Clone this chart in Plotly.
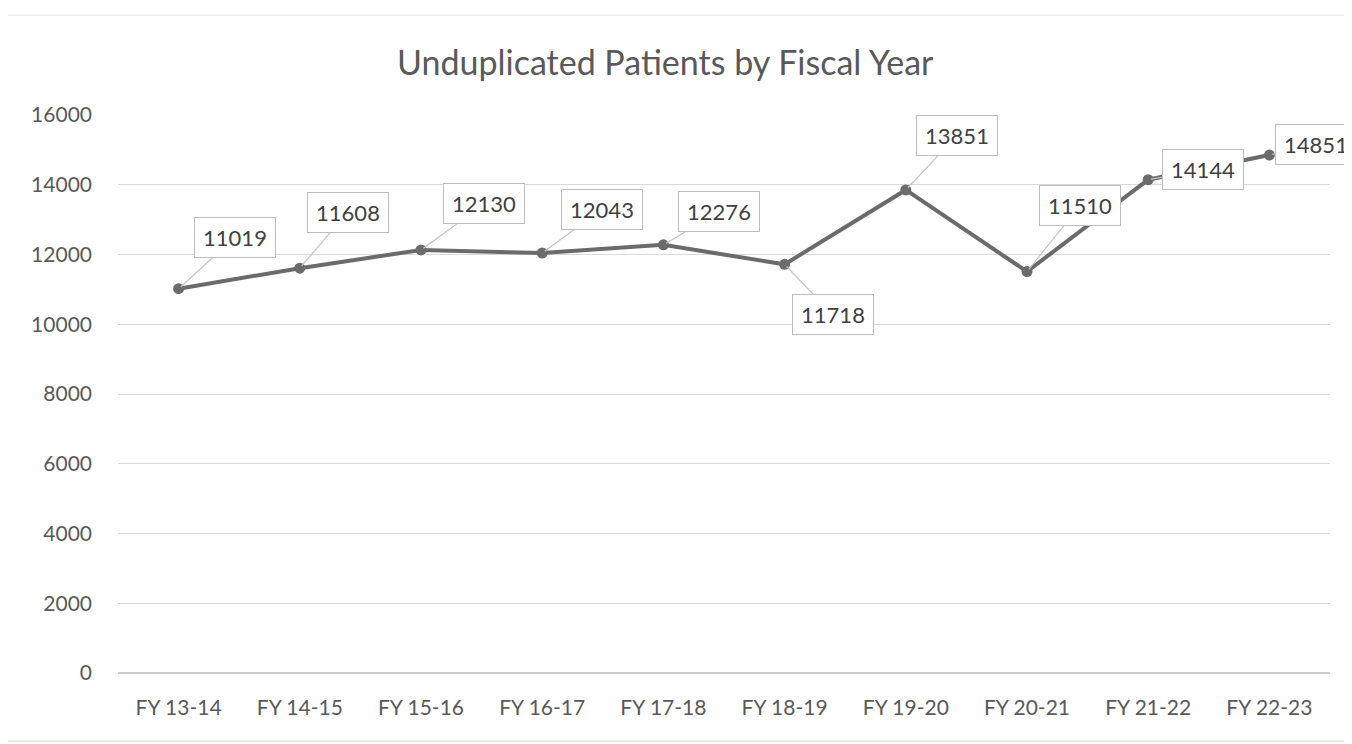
import plotly.graph_objects as go

categories = ["FY 13-14", "FY 14-15", "FY 15-16", "FY 16-17", "FY 17-18",
              "FY 18-19", "FY 19-20", "FY 20-21", "FY 21-22", "FY 22-23"]
patients = [11019, 11608, 12130, 12043, 12276, 11718, 13851, 11510, 14144, 14851]
y_ticks = [0, 2000, 4000, 6000, 8000, 10000, 12000, 14000, 16000]

# label box offsets in pixels (dx, dy) relative to each point
label_dx = [56, 48, 63, 60, 56, 48, 51, 53, 55, 47]
label_dy = [-51, -56, -46, -44, -33, 50, -54, -66, -10, -11]

FONT = "Lato, Open Sans, sans-serif"
GRAY = "#595959"

fig = go.Figure()
fig.add_trace(go.Scatter(
    x=categories, y=patients, mode="lines+markers",
    line=dict(color="#6b6b6b", width=4),
    marker=dict(color="#6b6b6b", size=11),
    hoverinfo="x+y", showlegend=False,
))

for c, v, dx, dy in zip(categories, patients, label_dx, label_dy):
    fig.add_annotation(
        x=c, y=v, text=str(v), ax=dx, ay=dy, axref="pixel", ayref="pixel",
        showarrow=True, arrowhead=0, arrowwidth=1.2, arrowcolor="#c4c4c4",
        standoff=3, bgcolor="white", bordercolor="#bdbdbd", borderwidth=1,
        width=68, height=27, borderpad=6,
        font=dict(family=FONT, size=22, color="#404040"),
    )

# faint scan frame lines
fig.add_shape(type="line", xref="paper", yref="paper", x0=-0.1, x1=1.1,
              y0=1.179, y1=1.179, line=dict(color="#e2e2e2", width=1))
fig.add_shape(type="line", xref="paper", yref="paper", x0=-0.1, x1=1.1,
              y0=-0.122, y1=-0.122, line=dict(color="#cfcfcf", width=1))

fig.update_layout(
    width=1344, height=736,
    margin=dict(l=110, r=22, t=107, b=71),
    paper_bgcolor="white", plot_bgcolor="white",
    title=dict(text="Unduplicated Patients by Fiscal Year",
               xref="container", x=0.489, xanchor="center",
               yref="container", y=0.925, yanchor="middle",
               font=dict(family=FONT, size=34, color=GRAY)),
    xaxis=dict(type="category", range=[-0.5, len(categories) - 0.5],
               showgrid=False, zeroline=False, showline=False,
               ticks="", ticklabelstandoff=20, automargin=False,
               tickfont=dict(family=FONT, size=21, color=GRAY)),
    yaxis=dict(range=[0, 16000], tickvals=y_ticks, tickformat="d",
               showgrid=True, gridcolor="#d9d9d9", gridwidth=1,
               zeroline=True, zerolinecolor="#cccccc", zerolinewidth=1.5,
               showline=False, ticks="", ticklabelstandoff=25, automargin=False,
               tickfont=dict(family=FONT, size=21, color=GRAY)),
)

fig.write_html("out.html")
